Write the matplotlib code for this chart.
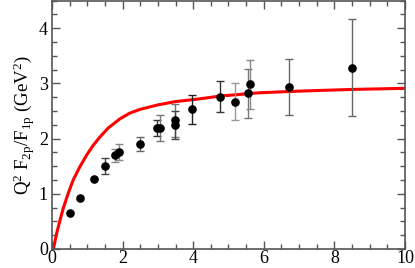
import matplotlib
matplotlib.use('Agg')
import matplotlib.pyplot as plt
from matplotlib.ticker import MultipleLocator

# Data points
q2 = [0.51, 0.80, 1.20, 1.50, 1.78, 1.90, 2.49, 2.98, 3.06, 3.48, 3.48,
      3.98, 4.77, 5.18, 5.56, 5.61, 6.70, 8.49]
ratio = [0.66, 0.92, 1.26, 1.50, 1.70, 1.76, 1.90, 2.19, 2.19, 2.33, 2.25,
         2.53, 2.76, 2.67, 2.82, 2.98, 2.93, 3.28]
err = [0.0, 0.0, 0.0, 0.14, 0.12, 0.14, 0.13, 0.15, 0.23, 0.30, 0.25,
       0.26, 0.275, 0.33, 0.44, 0.44, 0.51, 0.88]
errColor = ['#444444', '#444444', '#444444', '#444444', '#888888', '#888888',
            '#666666', '#333333', '#777777', '#777777', '#444444',
            '#222222', '#333333', '#999999', '#777777', '#888888', '#666666', '#666666']

# Model curve, points
curveX = [0.04, 0.13, 0.23, 0.32, 0.46, 0.60, 0.79, 0.98, 1.17, 1.36, 1.59,
          1.93, 2.20, 2.50, 3.00, 3.50, 4.19, 4.76, 5.89, 7.03, 8.50, 10.0]
curveY = [0.0, 0.28, 0.53, 0.74, 1.01, 1.25, 1.49, 1.70, 1.88, 2.03, 2.19,
          2.36, 2.46, 2.53, 2.61, 2.67, 2.72, 2.77, 2.83, 2.86, 2.89, 2.91]

plt.rcParams['font.family'] = 'Liberation Serif'
plt.rcParams['mathtext.fontset'] = 'custom'
plt.rcParams['mathtext.rm'] = 'Liberation Serif'
plt.rcParams['mathtext.it'] = 'Liberation Serif'

fig = plt.figure(figsize=(4.15, 2.68), dpi=100)
ax = fig.add_axes([0.1253, 0.0709, 0.8506, 0.9271])

ax.plot(curveX, curveY, color='red', lw=2.2, zorder=2, solid_joinstyle='round')

for i in range(len(q2)):
    if err[i] > 0:
        ax.errorbar(q2[i], ratio[i], yerr=err[i], fmt='none', ecolor=errColor[i],
                    elinewidth=1.0, capsize=3, capthick=1.0, zorder=3)
ax.plot(q2, ratio, 'o', color='black', markersize=5.2, zorder=4)

ax.set_xlim(0, 10)
ax.set_ylim(0, 4.5)
ax.xaxis.set_major_locator(MultipleLocator(2))
ax.xaxis.set_minor_locator(MultipleLocator(0.5))
ax.yaxis.set_major_locator(MultipleLocator(1))
ax.yaxis.set_minor_locator(MultipleLocator(0.25))
ax.tick_params(which='both', direction='in', top=True, right=True,
               color='#555555', labelsize=13)
ax.tick_params(axis='x', pad=1)
ax.tick_params(axis='y', pad=3)
ax.tick_params(which='major', length=6, width=1)
ax.tick_params(which='minor', length=3.5, width=1)
for s in ax.spines.values():
    s.set_color('#555555')
    s.set_linewidth(1.2)

ax.set_ylabel(r'Q$^2$ F$_{2p}$/F$_{1p}$ (GeV$^2$)', fontsize=13.5, labelpad=1)

fig.savefig('out.png', dpi=100)
plt.close()
